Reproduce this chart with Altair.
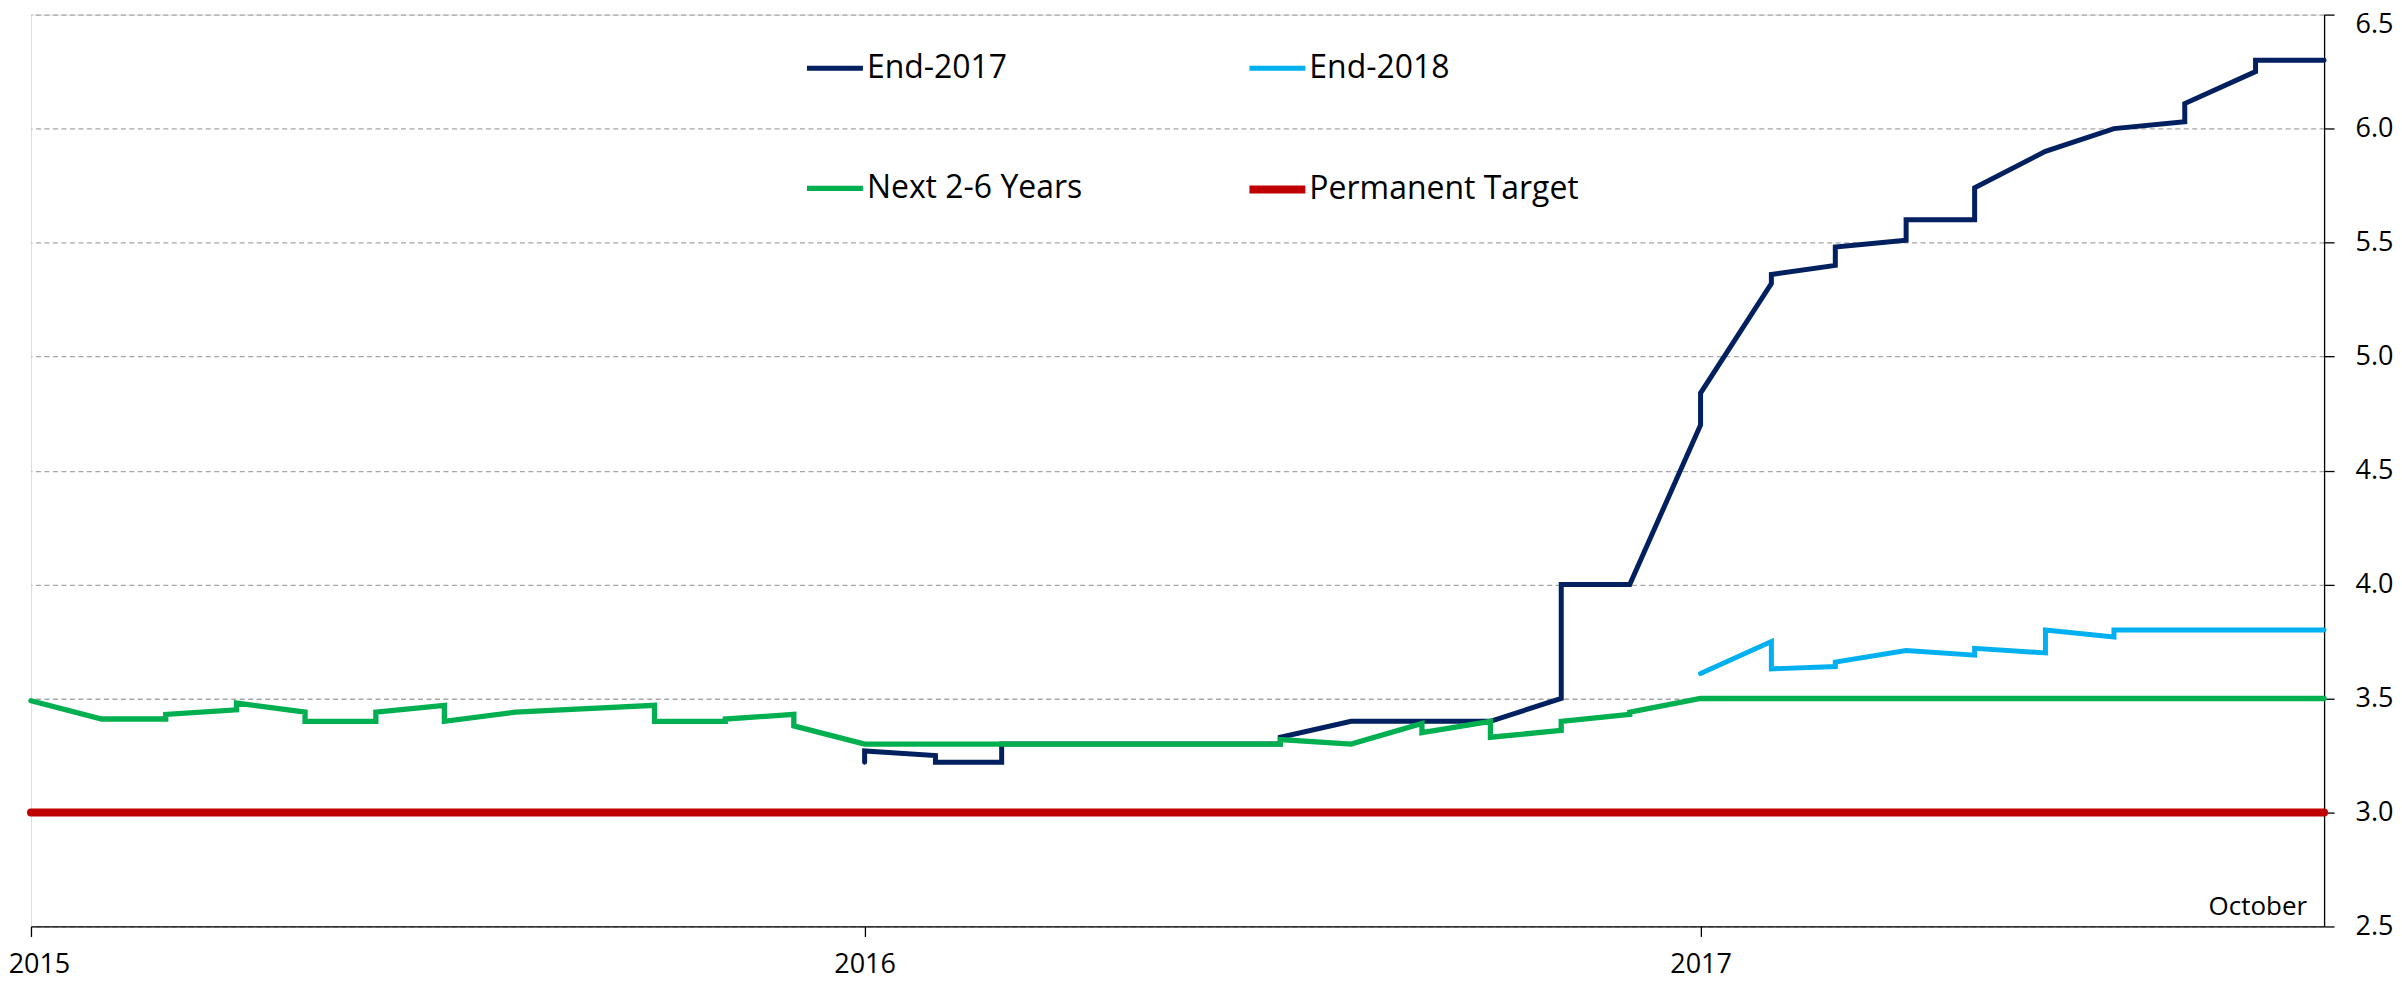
import altair as alt
import pandas as pd

# ---- data ----
# legend order (column-major fill of a 2-column legend gives rows End-2017/End-2018, Next/Permanent)
legend_order = ["End-2017", "Next 2-6 Years", "End-2018", "Permanent Target"]
legend_colors = ["#002060", "#00B050", "#00B0F0", "#C00000"]
legend_widths = [5, 5.3, 5, 8]
draw_order = ["End-2017", "End-2018", "Next 2-6 Years", "Permanent Target"]

end2017_dates = ["2016-01-01", "2016-01-01", "2016-02-01", "2016-02-01", "2016-03-01", "2016-03-01",
                 "2016-07-01", "2016-07-01", "2016-08-01", "2016-10-01", "2016-11-01", "2016-11-01",
                 "2016-12-01", "2017-01-01", "2017-01-01", "2017-02-01", "2017-02-01", "2017-03-01",
                 "2017-03-01", "2017-04-01", "2017-04-01", "2017-05-01", "2017-05-01", "2017-06-01",
                 "2017-07-01", "2017-08-01", "2017-08-01", "2017-09-01", "2017-09-01", "2017-10-01"]
end2017_values = [3.22, 3.27, 3.25, 3.22, 3.22, 3.30,
                  3.30, 3.33, 3.40, 3.40, 3.50, 4.00,
                  4.00, 4.70, 4.84, 5.32, 5.36, 5.40,
                  5.48, 5.51, 5.60, 5.60, 5.74, 5.90,
                  6.00, 6.03, 6.11, 6.25, 6.30, 6.30]

end2018_dates = ["2017-01-01", "2017-02-01", "2017-02-01", "2017-03-01", "2017-03-01", "2017-04-01",
                 "2017-05-01", "2017-05-01", "2017-06-01", "2017-06-01", "2017-07-01", "2017-07-01",
                 "2017-10-01"]
end2018_values = [3.61, 3.75, 3.63, 3.64, 3.66, 3.71,
                  3.69, 3.72, 3.70, 3.80, 3.77, 3.80,
                  3.80]

next26_dates = ["2015-01-01", "2015-02-01", "2015-03-01", "2015-03-01", "2015-04-01", "2015-04-01",
                "2015-05-01", "2015-05-01", "2015-06-01", "2015-06-01", "2015-07-01", "2015-07-01",
                "2015-08-01", "2015-10-01", "2015-10-01", "2015-11-01", "2015-11-01", "2015-12-01",
                "2015-12-01", "2016-01-01", "2016-07-01", "2016-07-01", "2016-08-01", "2016-09-01",
                "2016-09-01", "2016-10-01", "2016-10-01", "2016-11-01", "2016-11-01", "2016-12-01",
                "2016-12-01", "2017-01-01", "2017-10-01"]
next26_values = [3.49, 3.41, 3.41, 3.43, 3.45, 3.48,
                 3.44, 3.40, 3.40, 3.44, 3.47, 3.40,
                 3.44, 3.47, 3.40, 3.40, 3.41, 3.43,
                 3.38, 3.30, 3.30, 3.32, 3.30, 3.39,
                 3.35, 3.40, 3.33, 3.36, 3.40, 3.43,
                 3.44, 3.50, 3.50]

target_dates = ["2015-01-01", "2017-10-01"]
target_values = [3.0, 3.0]

y_ticks = [2.5, 3.0, 3.5, 4.0, 4.5, 5.0, 5.5, 6.0, 6.5]
x_tick_years = [2015, 2016, 2017]
note_text = ["October"]

# ---- long table ----
rows = []
for name, ds, vs in [("End-2017", end2017_dates, end2017_values),
                     ("End-2018", end2018_dates, end2018_values),
                     ("Next 2-6 Years", next26_dates, next26_values),
                     ("Permanent Target", target_dates, target_values)]:
    for i, (d, v) in enumerate(zip(ds, vs)):
        rows.append({"date": d, "value": v, "series": name, "idx": i})
df = pd.DataFrame(rows)

note_df = pd.DataFrame({"date": ["2017-10-01"], "value": [2.5], "label": note_text})

FONT = "Open Sans"

x_enc = alt.X("date:T",
              scale=alt.Scale(type="utc",
                              domain=[alt.DateTime(year=2015, month=1, date=1, utc=True),
                                      alt.DateTime(year=2017, month=10, date=1, utc=True)]),
              axis=alt.Axis(values=[alt.DateTime(year=y, month=1, date=1, utc=True) for y in x_tick_years],
                            labelExpr="utcFormat(datum.value, '%Y')",
                            title=None, grid=False, tickSize=10, tickColor="#000000",
                            tickWidth=1.3, domainColor="#000000", domainWidth=1.3,
                            labelFont=FONT, labelFontSize=27, labelColor="#000000",
                            labelBaseline="alphabetic", labelPadding=36,
                            labelOffset=alt.condition("utcyear(datum.value) == 2015",
                                                      alt.value(8), alt.value(0)),
                            labelFlush=False, labelOverlap=False))

y_enc = alt.Y("value:Q",
              scale=alt.Scale(domain=[2.5, 6.5], nice=False, zero=False),
              axis=alt.Axis(orient="right", values=y_ticks, format=".1f", title=None,
                            grid=True, gridColor="#a6a6a6", gridDash=[5, 3.5], gridWidth=1.3,
                            tickSize=10, tickColor="#000000", tickWidth=1.3,
                            domainColor="#000000", domainWidth=1.3,
                            labelFont=FONT, labelFontSize=27, labelColor="#000000",
                            labelPadding=21,
                            labelOffset=alt.condition("datum.value >= 6.5", alt.value(10), alt.value(0))))

legend = alt.Legend(orient="none", legendX=773, legendY=23, columns=2, title=None,
                    symbolType="stroke", symbolSize=3136, labelFont=FONT, labelFontSize=32,
                    labelColor="#000000", labelOffset=0, columnPadding=151, rowPadding=73,
                    padding=0, labelLimit=0)

color_enc = alt.Color("series:N", scale=alt.Scale(domain=legend_order, range=legend_colors),
                      legend=legend)
width_enc = alt.StrokeWidth("series:N",
                            scale=alt.Scale(type="ordinal", domain=legend_order, range=legend_widths),
                            legend=legend)

layers = []
for name in draw_order:
    layers.append(
        alt.Chart(df).transform_filter(alt.datum.series == name)
        .mark_line(strokeCap="round", strokeJoin="miter")
        .encode(x=x_enc, y=y_enc, color=color_enc, strokeWidth=width_enc,
                order=alt.Order("idx:Q"))
    )

note = alt.Chart(note_df).mark_text(align="right", baseline="alphabetic", dx=-17, dy=-11,
                                    font=FONT, fontSize=26, color="#000000").encode(
    x=alt.X("date:T"), y=alt.Y("value:Q"), text="label:N")

chart = alt.layer(*layers, note).properties(
    width=2296, height=913,
    autosize=alt.AutoSizeParams(type="none"),
    padding={"left": 23, "top": 6, "right": 70, "bottom": 56},
    background="#ffffff",
).configure_view(fill="#F7F7F7", stroke=None).configure(font=FONT)

chart.save("out.html", embed_options={"renderer": "svg", "actions": False})
